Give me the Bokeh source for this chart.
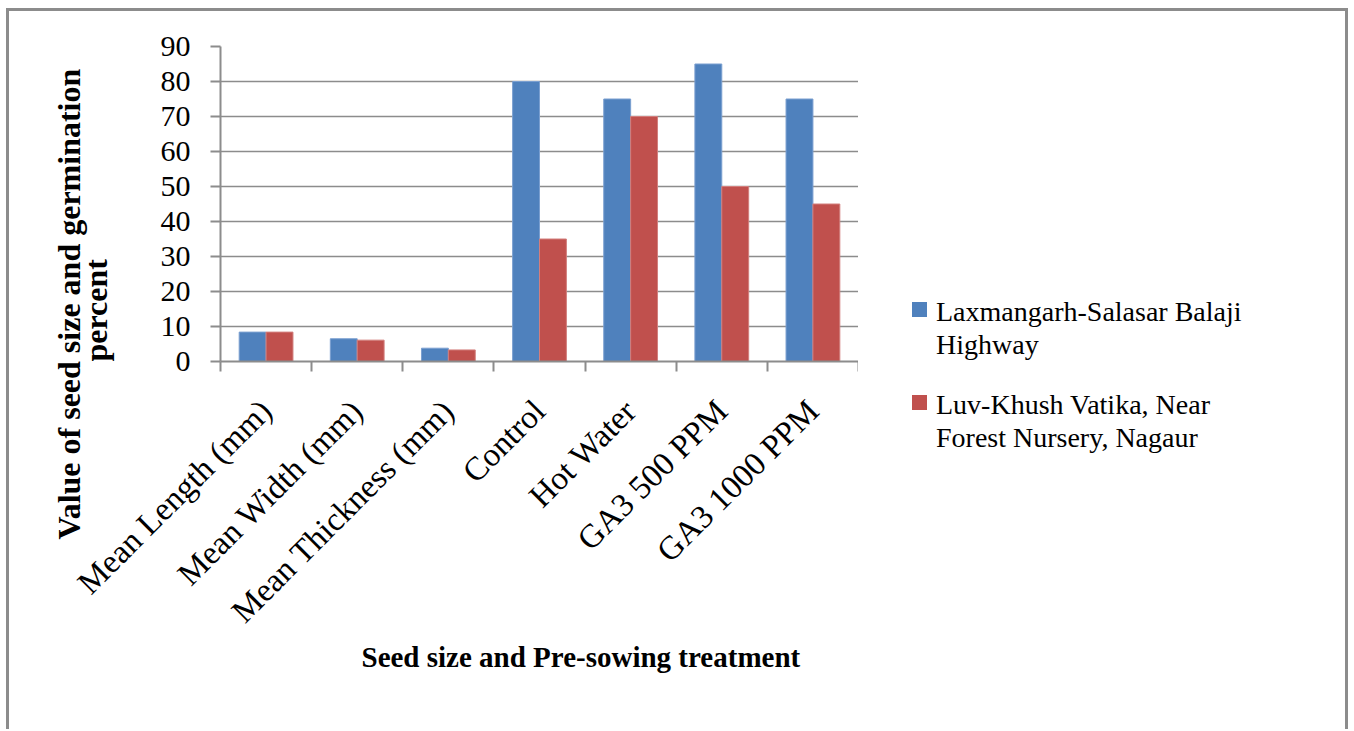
import numpy as np
from bokeh.plotting import figure
from bokeh.layouts import row
from bokeh.models import Range1d, FixedTicker, Title, Div
from bokeh.embed import file_html
from bokeh.resources import INLINE

categories = ["Mean Length (mm)", "Mean Width (mm)", "Mean Thickness (mm)",
              "Control", "Hot Water", "GA3 500 PPM", "GA3 1000 PPM"]
series_lines = [["Laxmangarh-Salasar Balaji", "Highway"],
                ["Luv-Khush Vatika, Near", "Forest Nursery, Nagaur"]]
laxmangarh = [8.4, 6.5, 3.8, 80, 75, 85, 75]
luvkhush = [8.4, 6.1, 3.3, 35, 70, 50, 45]
y_ticks = [0, 10, 20, 30, 40, 50, 60, 70, 80, 90]

x_title = "Seed size and Pre-sowing treatment"
y_title_1 = "Value of seed size and germination"
y_title_2 = "percent"

BLUE = "#4F81BD"
RED = "#C0504D"
GRAY = "#8c8c8c"
FONT = "Liberation Serif"

H = 718
p = figure(width=849, height=H, output_backend="svg", toolbar_location=None,
           x_range=Range1d(0, len(categories)), y_range=Range1d(0, 90),
           min_border_left=211, min_border_right=0, min_border_top=35,
           min_border_bottom=368)

idx = np.arange(len(categories))
bw = 0.295
r1 = p.vbar(x=idx + 0.5 - bw / 2, top=laxmangarh, width=bw, fill_color=BLUE,
            line_color="#7a9fd0", line_width=1)
r2 = p.vbar(x=idx + 0.5 + bw / 2, top=luvkhush, width=bw, fill_color=RED,
            line_color="#d27e7c", line_width=1)

p.outline_line_color = None
p.background_fill_color = "white"
p.border_fill_color = "white"

# x axis
xa = p.xaxis[0]
xa.ticker = FixedTicker(ticks=list(idx + 0.5), minor_ticks=list(range(len(categories) + 1)))
xa.major_label_overrides = {float(i + 0.5): c for i, c in enumerate(categories)}
xa.major_label_orientation = np.pi / 4
xa.major_tick_out = 0
xa.major_tick_in = 0
xa.minor_tick_out = 10
xa.minor_tick_in = 0
xa.minor_tick_line_color = GRAY
xa.minor_tick_line_width = 2
xa.axis_line_color = GRAY
xa.axis_line_width = 2
xa.major_label_standoff = 34
xa.major_label_text_font = FONT
xa.major_label_text_font_size = "33px"
xa.major_label_text_color = "black"

# y axis
ya = p.yaxis[0]
ya.ticker = FixedTicker(ticks=y_ticks)
ya.major_tick_out = 10
ya.major_tick_in = 0
ya.major_tick_line_color = GRAY
ya.major_tick_line_width = 2
ya.minor_tick_line_color = None
ya.axis_line_color = GRAY
ya.axis_line_width = 2
ya.major_label_standoff = 20
ya.major_label_text_font = FONT
ya.major_label_text_font_size = "30px"
ya.major_label_text_color = "black"

p.xgrid.visible = False
p.ygrid.grid_line_color = GRAY
p.ygrid.grid_line_width = 1.5

# axis titles (side panels)
p.add_layout(Title(text=x_title, align="left", offset=141, standoff=-14,
                   text_font=FONT, text_font_style="bold", text_font_size="29px",
                   text_color="black"), "below")
p.add_layout(Title(text=y_title_2, align="left", offset=0, standoff=88,
                   text_font=FONT, text_font_style="bold", text_font_size="32px",
                   text_color="black"), "left")
p.add_layout(Title(text=y_title_1, align="left", offset=-178, standoff=-110,
                   text_font=FONT, text_font_style="bold", text_font_size="32px",
                   text_color="black"), "left")

# legend, to the right of the plot area
colors = [BLUE, RED]
legend_tops = [279, 372]
parts = []
for lines, col, top in zip(series_lines, colors, legend_tops):
    parts.append(f'<div style="position:absolute;left:49px;top:{top + 7}px;'
                 f'width:15px;height:15px;background:{col};"></div>')
    parts.append(f'<div style="position:absolute;left:73px;top:{top}px;'
                 f'white-space:nowrap;">{"<br>".join(lines)}</div>')
legend_html = ('<div style="position:relative;width:470px;height:700px;'
               "font-family:'Liberation Serif';font-size:28px;line-height:33px;"
               'color:black;background:white;">' + "".join(parts) + '</div>')
legend_div = Div(text=legend_html, width=477, height=H - 10)

layout = row(p, legend_div)
layout.styles = {"border-top": "3px solid #8c8c8c", "border-left": "3px solid #8c8c8c",
                 "border-right": "3px solid #8c8c8c", "margin-left": "6px",
                 "margin-top": "8px"}

open("out.html", "w").write(file_html(layout, INLINE))
